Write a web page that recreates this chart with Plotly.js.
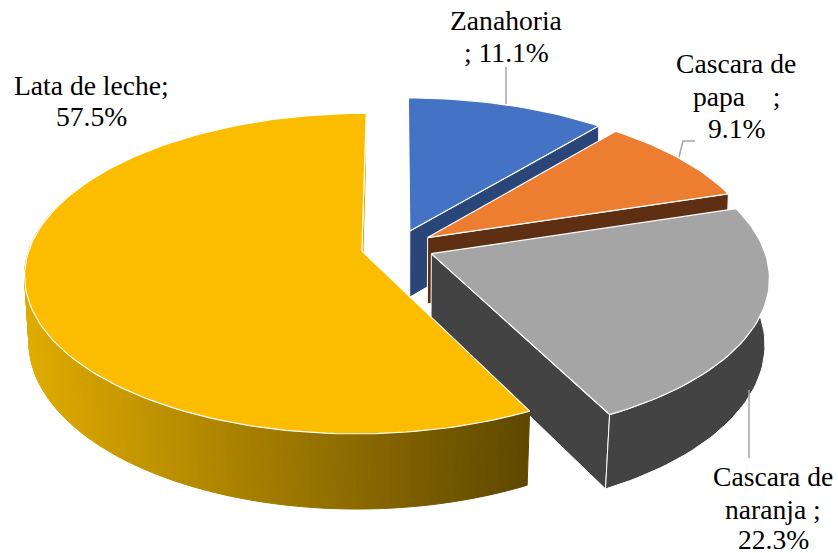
<!DOCTYPE html>
<html><head><meta charset="utf-8">
<script src="https://cdn.plot.ly/plotly-3.0.1.min.js"></script>
<style>html,body{margin:0;padding:0;background:#fff}#c{width:838px;height:553px}</style>
</head><body><div id="c"></div>
<script>
const categories = ["Zanahoria", "Cascara de papa", "Cascara de naranja", "Lata de leche"];
const values = [11.1, 9.1, 22.3, 57.5];
const topColors = ["#4472C4", "#ED7D31", "#A5A5A5", "#FCBD00"];
const wallColors = ["#2A4678", "#5E2F12", "#434343", "#D9A800"];
const labelLines = [
  ["Zanahoria", "; 11.1%"],
  ["Cascara de", "papa\u00a0\u00a0\u00a0\u00a0;", "9.1%"],
  ["Cascara de", "naranja ;", "22.3%"],
  ["Lata de leche;", "57.5%"]
];
const labelX = [506, 736, 773, 91];
const labelY = [[20, 52], [63, 96, 128], [476, 509, 539], [85, 116]];

// Perspective view of the tilted, exploded disc
const view = {cx: 397.5, cy: 247, A: 332, B: 156, p: 0.14, explode: 0.11, fontSize: 27.6};
const rad = d => d * Math.PI / 180;

function topPoint(theta, r, bis) {
  const U = view.explode * Math.sin(rad(bis)) + r * Math.sin(rad(theta));
  const V = view.explode * Math.cos(rad(bis)) + r * Math.cos(rad(theta));
  const w = 1 + view.p * V;
  return {x: view.cx + view.A * U / w, y: view.cy - view.B * V / w, V};
}
function botPoint(theta, r, bis) {
  const t = topPoint(theta, r, bis);
  const s = 0.99 + 0.01 * t.V;
  return {x: view.cx + (t.x - view.cx) * s, y: t.y + 67 + (t.y - 252) * 0.045};
}
function poly(pts, fill, line, lw) {
  const xs = pts.map(p => p.x), ys = pts.map(p => p.y);
  xs.push(xs[0]); ys.push(ys[0]);
  return {type: "scatter", mode: "lines", x: xs, y: ys, fill: "toself", fillcolor: fill,
          line: {color: line, width: lw}, hoverinfo: "skip", showlegend: false};
}
function arc(f, a, b, bis) {
  const out = [], n = Math.max(2, Math.ceil(Math.abs(b - a) / 1.5));
  for (let i = 0; i <= n; i++) out.push(f(a + (b - a) * i / n, 1, bis));
  return out;
}
function lerpColor(x) {
  const t = Math.min(1, Math.max(0, (x - 23) / (527 - 23)));
  const c0 = [224, 172, 0], c1 = [94, 71, 0];
  return "rgb(" + c0.map((v, i) => Math.round(v + (c1[i] - v) * t)).join(",") + ")";
}

const total = values.reduce((a, b) => a + b, 0);
const traces = [];
let start = 0;
values.forEach((val, i) => {
  const a = start, b = start + val / total * 360, bis = (a + b) / 2;
  start = b;
  const apexT = topPoint(a, 0, bis), apexB = botPoint(a, 0, bis);
  // radial wall on the clockwise edge (the only one the viewer can see)
  traces.push(poly([apexT, topPoint(b, 1, bis), botPoint(b, 1, bis), apexB], wallColors[i], "#ffffff", 1));
  // outer wall
  if (i === 3) {
    // painted from the far left towards the front so that each band overlaps the next
    const stepDeg = 1;
    for (let t = a + 140; t > a; t -= stepDeg) {
      const from = Math.max(a, t - stepDeg);
      const q = [topPoint(t, 1, bis), topPoint(from, 1, bis), botPoint(from, 1, bis), botPoint(t, 1, bis)];
      const col = lerpColor(q[0].x);
      traces.push(poly(q, col, col, 1));
    }
  } else if (i === 2) {
    const up = arc(topPoint, a, b, bis), lo = arc(botPoint, a, b, bis).reverse();
    traces.push(poly(up.concat(lo), wallColors[i], "#ffffff", 1));
  }
  // top face
  traces.push(poly([apexT].concat(arc(topPoint, a, b, bis)), topColors[i], "#ffffff", 1.2));
});

const leaderStyle = {color: "#A6A6A6", width: 1.5};
const shapes = [
  {type: "path", path: "M506,67 L506,104", line: leaderStyle, xref: "x", yref: "y", layer: "above"},
  {type: "path", path: "M695,141 L683,141 L679,157", line: leaderStyle, xref: "x", yref: "y", layer: "above"},
  {type: "path", path: "M749,390 L749,458", line: leaderStyle, xref: "x", yref: "y", layer: "above"}
];
const annotations = [];
labelLines.forEach((lines, i) => lines.forEach((txt, j) => annotations.push({
  x: labelX[i], y: labelY[i][j], xref: "x", yref: "y", text: txt, showarrow: false,
  xanchor: "center", yanchor: "middle",
  font: {family: "Liberation Serif", size: view.fontSize, color: "#000000"}
})));

Plotly.newPlot("c", traces, {
  width: 838, height: 553, margin: {l: 0, r: 0, t: 0, b: 0},
  paper_bgcolor: "#ffffff", plot_bgcolor: "#ffffff", showlegend: false,
  xaxis: {range: [0, 838], visible: false, fixedrange: true},
  yaxis: {range: [553, 0], visible: false, fixedrange: true},
  shapes, annotations
}, {displayModeBar: false, staticPlot: true});
</script></body></html>
